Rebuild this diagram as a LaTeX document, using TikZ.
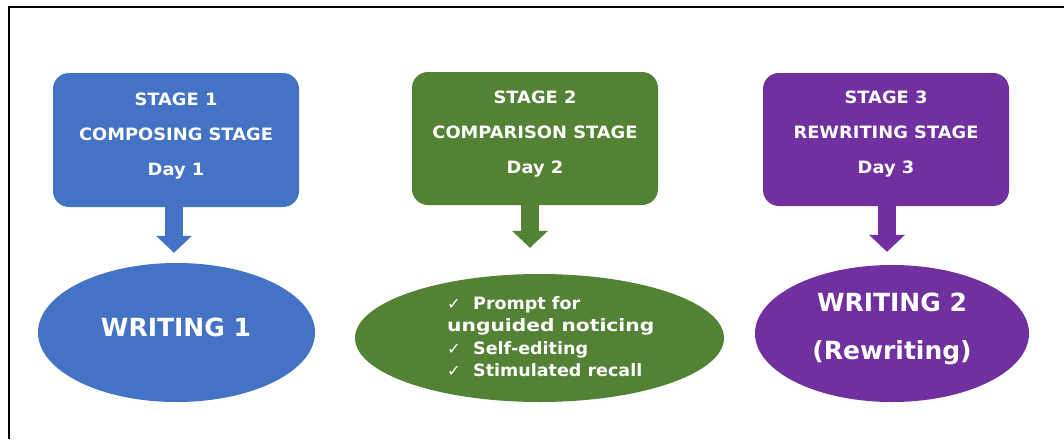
\documentclass[tikz,border=0pt]{standalone}
\usepackage{fontspec}
\setmainfont{DejaVu Sans}
\newfontfamily\stagefont[FakeStretch=1.05]{DejaVu Sans}
\newfontfamily\listfont[FakeStretch=1.03]{DejaVu Sans}
\newfontfamily\widelistfont[FakeStretch=1.19]{DejaVu Sans}
\usetikzlibrary{shapes.geometric,arrows.meta}
\definecolor{stageblue}{HTML}{4472C4}
\definecolor{stagegreen}{HTML}{548235}
\definecolor{stagepurple}{HTML}{7030A0}
\newcommand{\tick}{\makebox[26pt][l]{\fontsize{16}{16}\selectfont\mdseries ✓}}
\tikzset{
  stagebox/.style={draw=none, fill=#1, rounded corners=16pt, minimum width=246pt, minimum height=134pt, inner sep=0pt},
  stagetext/.style={text=white, font=\stagefont\bfseries\fontsize{17}{35}\selectfont, align=center},
  bigtext/.style={text=white, font=\bfseries\fontsize{25}{48}\selectfont, align=center},
  listtext/.style={text=white, font=\listfont\bfseries\fontsize{17}{22.4}\selectfont, align=left, anchor=west, inner sep=0pt},
  result/.style={ellipse, draw=none, fill=#1, inner sep=0pt},
  downarrow/.style={draw=#1, line width=18pt, -{Triangle[width=35pt,length=17pt]}}
}
\begin{document}
\begin{tikzpicture}[x=1pt, y=-1pt]
  \useasboundingbox (0,0) rectangle (1064,439);
  % outer frame (only left and top edges show)
  \draw[line width=2pt] (8.5,439) -- (8.5,6.5) -- (1064,6.5);

  % stage boxes
  \node[stagebox=stageblue, minimum height=134pt] (b1) at (176,140) {};
  \node[stagebox=stagegreen, minimum height=133pt] (b2) at (535,138.5) {};
  \node[stagebox=stagepurple, minimum height=133pt] (b3) at (886,139.5) {};

  \node[stagetext] (t1) at (176,136.5) {STAGE 1\\COMPOSING STAGE\\Day 1};
  \node[stagetext] (t2) at (535,134) {STAGE 2\\COMPARISON STAGE\\Day 2};
  \node[stagetext] (t3) at (886,134) {STAGE 3\\REWRITING STAGE\\Day 3};

  % outcome ellipses
  \node[result=stageblue, minimum width=277pt, minimum height=139pt] (e1) at (176.5,332.5) {};
  \node[result=stagegreen, minimum width=369pt, minimum height=128pt] (e2) at (539.5,338) {};
  \node[result=stagepurple, minimum width=274pt, minimum height=137pt] (e3) at (892,333.5) {};

  \node[bigtext] (w1) at (176,327) {WRITING 1};
  \node[bigtext] (w3) at (892,329) {WRITING 2\\(Rewriting)};
  \node[listtext] (l2) at (447,336.5) {\tick Prompt for\\{\widelistfont\bfseries unguided noticing}\\\tick Self-editing\\\tick Stimulated recall};

  % block arrows from each stage to its outcome
  \draw[downarrow=stageblue] ([xshift=-2pt]b1.south) -- ([xshift=-2.5pt,yshift=10pt]e1.north);
  \draw[downarrow=stagegreen] ([xshift=-5pt]b2.south) -- ([xshift=-9.5pt,yshift=26pt]e2.north);
  \draw[downarrow=stagepurple] ([xshift=1pt]b3.south) -- ([xshift=-5pt,yshift=13pt]e3.north);
\end{tikzpicture}
\end{document}
